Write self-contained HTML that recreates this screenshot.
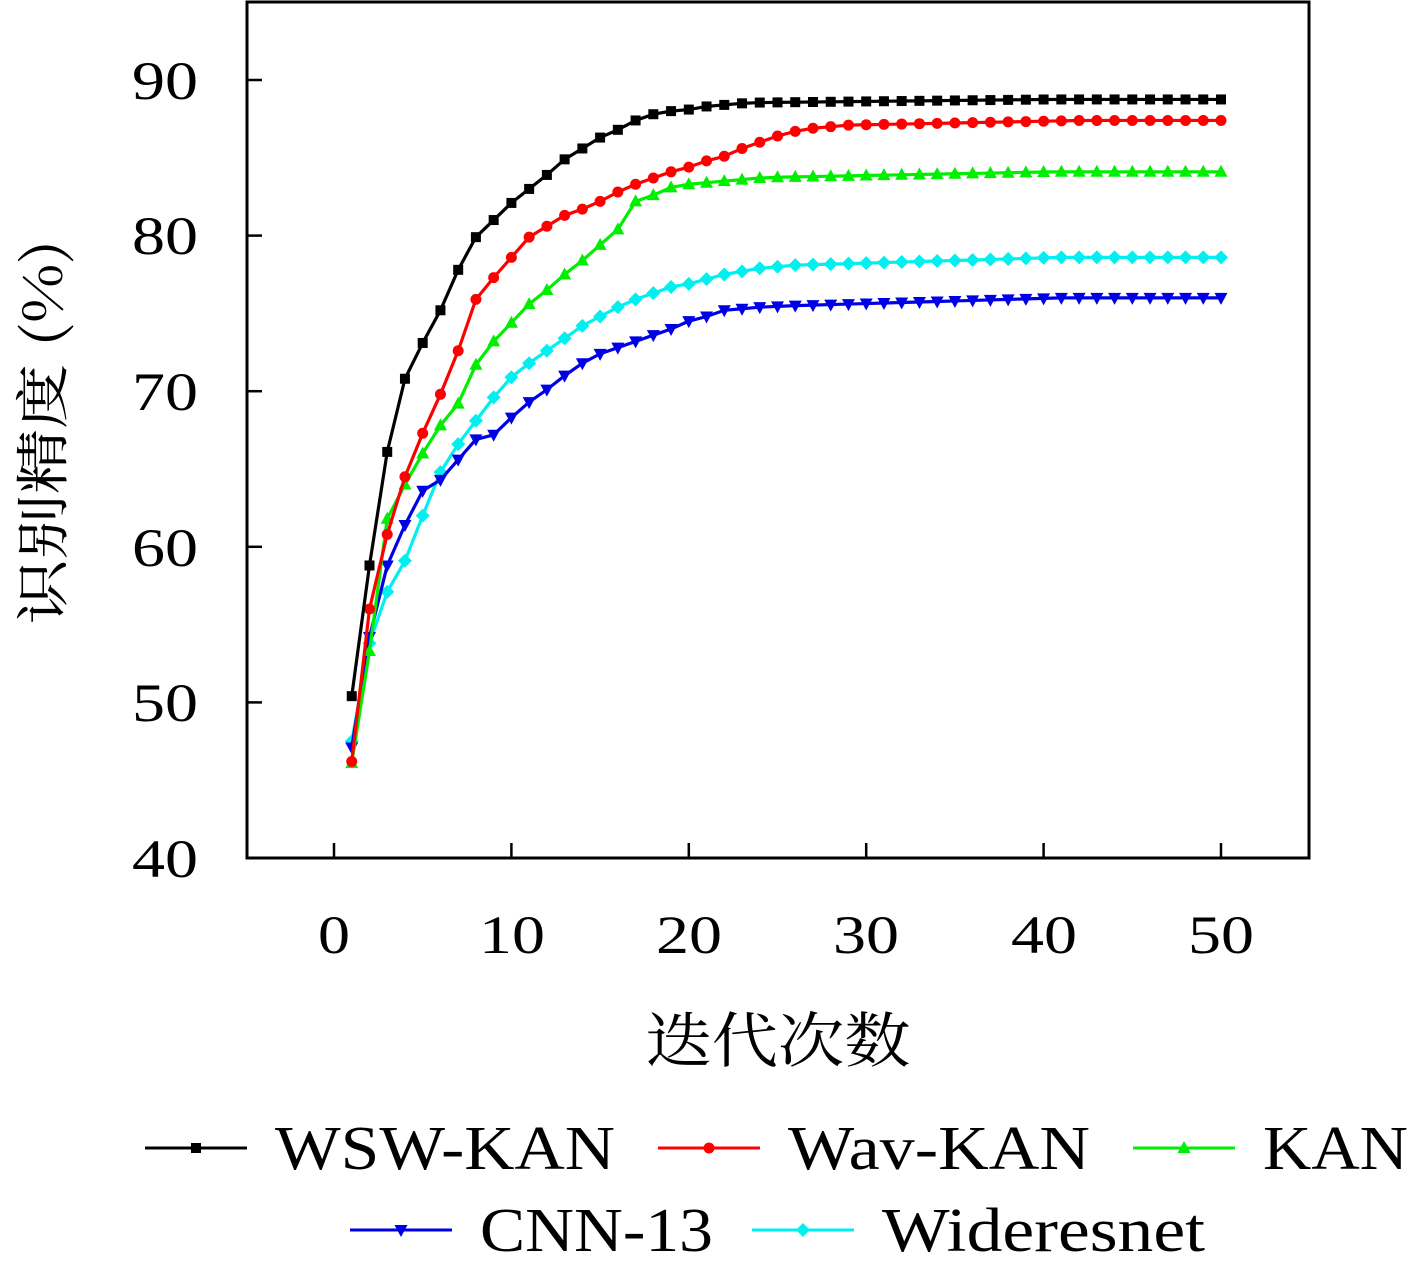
<!DOCTYPE html>
<html><head><meta charset="utf-8">
<style>
html,body{margin:0;padding:0;background:#fff;}
svg{display:block;}
text{font-family:"Liberation Serif","Noto Serif CJK SC",serif;fill:#000;}
.cjk{font-family:"Noto Serif CJK SC","Noto Sans CJK SC",serif;}
</style></head>
<body>
<svg id="s" width="1417" height="1268" xmlns="http://www.w3.org/2000/svg">
<rect x="247" y="2" width="1062" height="856" fill="none" stroke="#000" stroke-width="3"/>
<g font-size="54" text-anchor="end" lengthAdjust="spacingAndGlyphs">
<text x="198" y="99" textLength="66" lengthAdjust="spacingAndGlyphs">90</text><text x="198" y="254" textLength="66" lengthAdjust="spacingAndGlyphs">80</text><text x="198" y="410" textLength="66" lengthAdjust="spacingAndGlyphs">70</text>
<text x="198" y="566" textLength="66" lengthAdjust="spacingAndGlyphs">60</text><text x="198" y="721" textLength="66" lengthAdjust="spacingAndGlyphs">50</text><text x="198" y="877" textLength="66" lengthAdjust="spacingAndGlyphs">40</text>
</g>
<g font-size="54" text-anchor="middle">
<text x="334" y="953" textLength="32" lengthAdjust="spacingAndGlyphs">0</text><text x="512" y="953" textLength="66" lengthAdjust="spacingAndGlyphs">10</text><text x="689" y="953" textLength="66" lengthAdjust="spacingAndGlyphs">20</text>
<text x="866" y="953" textLength="66" lengthAdjust="spacingAndGlyphs">30</text><text x="1044" y="953" textLength="66" lengthAdjust="spacingAndGlyphs">40</text><text x="1221" y="953" textLength="66" lengthAdjust="spacingAndGlyphs">50</text>
</g>
<text class="cjk" x="778" y="1062" font-size="60" text-anchor="middle" textLength="265" lengthAdjust="spacingAndGlyphs">迭代次数</text>
<text class="cjk" transform="translate(62,432) rotate(-90)" font-size="54" text-anchor="middle" textLength="385" lengthAdjust="spacingAndGlyphs">识别精度 (%)</text>
<g id="ticks" stroke="#000" stroke-width="2.5"></g>
<g id="series"></g>
<g id="legend" font-size="62"></g>
</svg>
<script>
var NS="http://www.w3.org/2000/svg";
function X(v){return 334+v*17.74;}
function Y(v){return 858-(v-40)*15.56;}
function el(t,a,p){var e=document.createElementNS(NS,t);for(var k in a)e.setAttribute(k,a[k]);p.appendChild(e);return e;}
var tk=document.getElementById('ticks');
for(var v=40;v<=90;v+=10){el('line',{x1:247,x2:262,y1:Y(v),y2:Y(v)},tk);}
for(var v=0;v<=50;v+=10){el('line',{x1:X(v),x2:X(v),y1:858,y2:843},tk);}
function fill(arr,endv){var last=arr[arr.length-1];var n=arr.length;var out=arr.slice();for(var i=n+1;i<=50;i++){out.push(last+(endv-last)*Math.min(1,(i-n)/(50-n)*1.6));}return out;}
var data=[
 {c:'#000000',m:'sq',d:fill([50.4,58.8,66.1,70.8,73.1,75.2,77.8,79.9,81.0,82.1,83.0,83.9,84.9,85.6,86.3,86.8,87.4,87.8,88.0,88.1,88.3,88.4,88.5,88.55],88.75)},
 {c:'#ff0000',m:'ci',d:fill([46.2,56,60.8,64.5,67.3,69.8,72.6,75.9,77.3,78.6,79.9,80.6,81.3,81.7,82.2,82.8,83.3,83.7,84.1,84.4,84.8,85.1,85.6,86,86.4,86.7,86.9,87.0,87.1],87.4)},
 {c:'#00ee00',m:'tu',d:fill([46.1,53.3,61.8,64,66,67.8,69.2,71.7,73.2,74.4,75.6,76.5,77.5,78.4,79.4,80.4,82.2,82.6,83.1,83.3,83.4,83.5,83.6,83.7,83.75],84.1)},
 {c:'#0000e6',m:'td',d:fill([47.1,54.2,58.8,61.4,63.6,64.3,65.6,66.9,67.2,68.3,69.3,70.1,71.0,71.8,72.4,72.8,73.2,73.6,74.0,74.5,74.8,75.2,75.3,75.4,75.45,75.5],76.0)},
 {c:'#00f0f0',m:'di',d:fill([47.5,53.8,57.1,59.1,62,64.8,66.6,68.1,69.6,70.9,71.8,72.6,73.4,74.2,74.8,75.4,75.9,76.3,76.7,76.9,77.2,77.5,77.7,77.9,78.0,78.1],78.6)}
];
function marker(t,x,y,c,p){
 if(t=='sq')el('rect',{x:x-5,y:y-5,width:10,height:10,fill:c},p);
 else if(t=='ci')el('circle',{cx:x,cy:y,r:5.5,fill:c},p);
 else if(t=='tu')el('polygon',{points:(x-6.5)+','+(y+5)+' '+(x+6.5)+','+(y+5)+' '+x+','+(y-7),fill:c},p);
 else if(t=='td')el('polygon',{points:(x-6.5)+','+(y-5)+' '+(x+6.5)+','+(y-5)+' '+x+','+(y+7),fill:c},p);
 else el('polygon',{points:x+','+(y-7)+' '+(x+7)+','+y+' '+x+','+(y+7)+' '+(x-7)+','+y,fill:c},p);
}
var sg=document.getElementById('series');
for(var s=data.length-1;s>=0;s--){var o=data[s];var pts=[];
 for(var i=0;i<50;i++)pts.push(X(i+1)+','+Y(o.d[i]));
 el('polyline',{points:pts.join(' '),fill:'none',stroke:o.c,'stroke-width':3.2},sg);
 for(var i=0;i<50;i++)marker(o.m,X(i+1),Y(o.d[i]),o.c,sg);
}
var lg=document.getElementById('legend');
var L=[[145,1148,'WSW-KAN',0,340],[658,1148,'Wav-KAN',1,302],[1133,1148,'KAN',2,145],[350,1230,'CNN-13',3,233],[752,1230,'Wideresnet',4,323]];
L.forEach(function(a){var o=data[a[3]];
 el('line',{x1:a[0],x2:a[0]+102,y1:a[1],y2:a[1],stroke:o.c,'stroke-width':3},lg);
 marker(o.m,a[0]+51,a[1],o.c,lg);
 var t=el('text',{x:a[0]+130,y:a[1]+21,textLength:a[4],lengthAdjust:'spacingAndGlyphs'},lg);t.textContent=a[2];
});
</script>
</body></html>
